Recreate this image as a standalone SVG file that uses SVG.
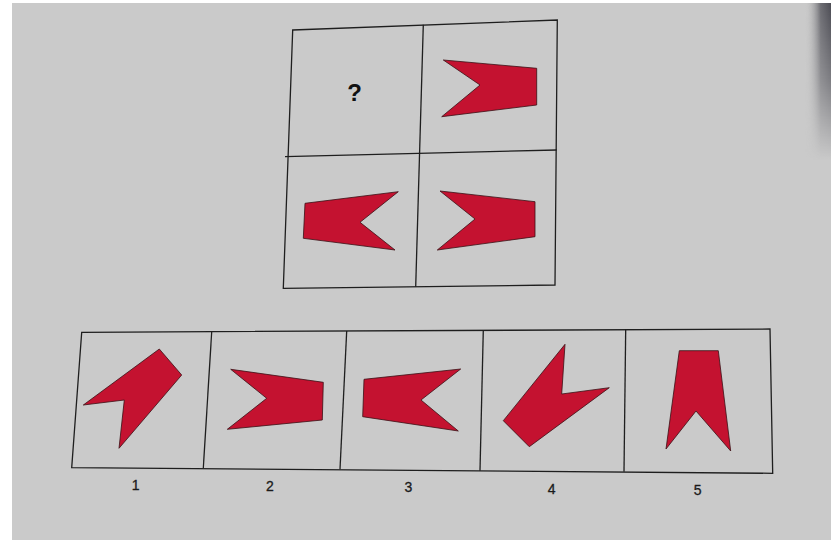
<svg xmlns="http://www.w3.org/2000/svg" width="831" height="540" viewBox="0 0 831 540">
  <defs>
    <linearGradient id="edge" x1="0" y1="0" x2="1" y2="0">
      <stop offset="0" stop-color="#c9c9c9" stop-opacity="0"/>
      <stop offset="0.6" stop-color="#6a6a70"/>
      <stop offset="1" stop-color="#4a4a52"/>
    </linearGradient>
    <linearGradient id="edgev" x1="0" y1="0" x2="0" y2="1">
      <stop offset="0" stop-color="#fff" stop-opacity="1"/>
      <stop offset="0.5" stop-color="#fff" stop-opacity="0.6"/>
      <stop offset="1" stop-color="#fff" stop-opacity="0"/>
    </linearGradient>
    <mask id="fade">
      <rect x="805" y="0" width="26" height="160" fill="url(#edgev)"/>
    </mask>
  </defs>
  <style>
    .line { fill: none; stroke: #1e1e1e; stroke-width: 1.3; }
    .shape { fill: #c41230; stroke: #3a1015; stroke-width: 0.8; stroke-linejoin: miter; }
    .num { font-family: "Liberation Sans", Arial, sans-serif; font-size: 14px; fill: #1a1a1a; stroke: #1a1a1a; stroke-width: 0.3; text-anchor: middle; }
    .q { font-family: "Liberation Sans", Arial, sans-serif; font-size: 24px; font-weight: bold; fill: #111; text-anchor: middle; }
  </style>
  <rect x="0" y="0" width="831" height="540" fill="#ffffff"/>
  <rect x="12" y="3" width="819" height="537" fill="#cacaca"/>
  <rect x="805" y="3" width="26" height="157" fill="url(#edge)" mask="url(#fade)"/>

  <g id="matrix">
    <polygon class="line" points="292.7,30 557.3,20 555,285 283.3,288.3"/>
    <line class="line" x1="423.3" y1="24.8" x2="415.7" y2="286.7"/>
    <line class="line" x1="285" y1="156.7" x2="556.7" y2="150"/>
  </g>
  <g id="cell-q">
    <text class="q" x="354.5" y="101">?</text>
  </g>
  <g id="cell-tr">
    <polygon class="shape" points="443.3,60 536.7,68.3 536.7,105 441.7,116.7 480,85"/>
  </g>
  <g id="cell-bl">
    <polygon class="shape" points="305,203.3 398.3,191.7 360,222.3 395,250 303.3,238.3"/>
  </g>
  <g id="cell-br">
    <polygon class="shape" points="440,191 535,201.7 535,236.7 437.3,250 475,219"/>
  </g>

  <g id="options">
    <polygon class="line" points="81.7,332.3 770,329 772.7,473.3 71.7,467.7"/>
    <line class="line" x1="211.7" y1="331.7" x2="203.3" y2="468.3"/>
    <line class="line" x1="346.7" y1="331" x2="340" y2="469.3"/>
    <line class="line" x1="483.3" y1="330" x2="480" y2="470.7"/>
    <line class="line" x1="625.7" y1="329" x2="624" y2="471.7"/>
  </g>
  <g id="option-1">
    <polygon class="shape" points="83.3,405 159.3,349 181.7,375 119,448.3 124.3,400"/>
    <text class="num" x="135.7" y="490">1</text>
  </g>
  <g id="option-2">
    <polygon class="shape" points="230.7,369.3 323.3,382.3 322.3,420 227.3,429.3 266.7,398.3"/>
    <text class="num" x="270" y="491">2</text>
  </g>
  <g id="option-3">
    <polygon class="shape" points="364,379.3 460.7,369 421,400 458.3,431 362.7,416.7"/>
    <text class="num" x="408.3" y="492">3</text>
  </g>
  <g id="option-4">
    <polygon class="shape" points="565,344.3 561.7,394 609.3,387.7 529.3,446.7 503.3,420.7"/>
    <text class="num" x="551.7" y="494">4</text>
  </g>
  <g id="option-5">
    <polygon class="shape" points="679.3,350.7 718.3,350.7 730.7,451 696,411 666,449"/>
    <text class="num" x="697.7" y="495">5</text>
  </g>
</svg>
